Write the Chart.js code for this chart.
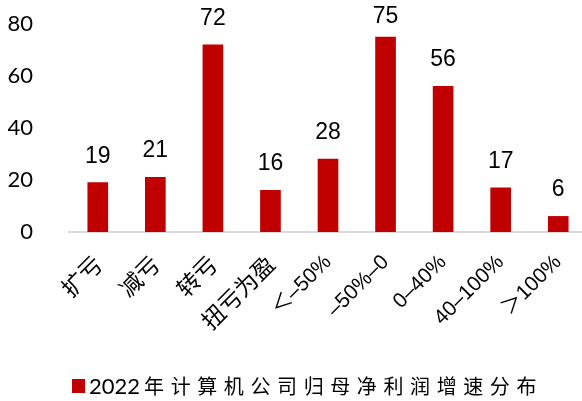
<!DOCTYPE html>
<html>
<head>
<meta charset="utf-8">
<script src="https://cdn.jsdelivr.net/npm/chart.js@4.4.1/dist/chart.umd.min.js"></script>
<style>
  html, body { margin: 0; padding: 0; background: #fff; overflow: hidden; width: 582px; height: 401px; }
  canvas { display: block; }
</style>
</head>
<body>
<canvas id="c" width="588" height="401"></canvas>
<script>
const categories = ['扩亏', '减亏', '转亏', '扭亏为盈', '＜–50%', '–50%–0', '0–40%', '40–100%', '＞100%'];
const companyCounts = [19, 21, 72, 16, 28, 75, 56, 17, 6];
const yTicks = [0, 20, 40, 60, 80];
const seriesName = '2022年计算机公司归母净利润增速分布';
const barColor = '#C00000';

const valueLabels = {
  id: 'valueLabels',
  afterDatasetsDraw(chart) {
    const ctx = chart.ctx;
    const meta = chart.getDatasetMeta(0);
    ctx.save();
    ctx.font = '23px "Liberation Sans", Arial, sans-serif';
    ctx.fillStyle = '#000';
    ctx.textAlign = 'center';
    ctx.textBaseline = 'alphabetic';
    meta.data.forEach((bar, i) => {
      const v = chart.data.datasets[0].data[i];
      const y = Math.max(bar.y - 20, 23);
      ctx.fillText(String(v), bar.x, y);
    });
    ctx.restore();
  }
};

const customLegend = {
  id: 'customLegend',
  afterDraw(chart) {
    const ctx = chart.ctx;
    const ds = chart.data.datasets[0];
    const cy = chart.height - 15;
    let x = 72;
    ctx.save();
    ctx.fillStyle = ds.backgroundColor;
    ctx.fillRect(x, cy - 7, 13, 14);
    x += 17;
    ctx.fillStyle = '#000';
    ctx.textBaseline = 'middle';
    ctx.textAlign = 'left';
    const label = ds.label;
    const m = label.match(/^(\d+)(.*)$/);
    const digits = m ? m[1] : '';
    const rest = m ? m[2] : label;
    ctx.font = '22px Lato, "Liberation Sans", sans-serif';
    ctx.fillText(digits, x, cy + 1);
    x += ctx.measureText(digits).width + 4;
    ctx.font = '20px "Noto Sans CJK SC", sans-serif';
    for (const ch of rest) {
      ctx.fillText(ch, x, cy);
      x += ctx.measureText(ch).width + 6.6;
    }
    ctx.restore();
  }
};

const isCJK = s => /[\u4e00-\u9fff]/.test(s);

new Chart(document.getElementById('c'), {
  type: 'bar',
  data: {
    labels: categories,
    datasets: [{
      label: seriesName,
      data: companyCounts,
      backgroundColor: barColor,
      borderWidth: 0,
      barThickness: 20
    }]
  },
  options: {
    responsive: false,
    animation: false,
    devicePixelRatio: 1,
    layout: { padding: { left: 8, right: 1, top: 24, bottom: 0 } },
    plugins: {
      legend: { display: false },
      tooltip: { enabled: false }
    },
    scales: {
      x: {
        grid: { display: false, drawTicks: false },
        border: { display: true, color: '#d9d9d9', width: 2 },
        ticks: {
          minRotation: 45,
          maxRotation: 45,
          autoSkip: false,
          padding: 18,
          color: '#000',
          font: (ctx) => {
            const lbl = categories[ctx.index] || '';
            return isCJK(lbl)
              ? { family: '"Noto Sans CJK SC", sans-serif', size: 23 }
              : { family: '"Liberation Sans", "Noto Sans CJK SC", sans-serif', size: 21 };
          }
        },
        afterFit(scale) { scale.height = 169; scale.paddingLeft = 0; scale.paddingRight = 0; }
      },
      y: {
        min: 0,
        max: 80,
        afterBuildTicks(scale) { scale.ticks = yTicks.map(v => ({ value: v })); },
        grid: { display: false, drawTicks: false },
        border: { display: false },
        ticks: {
          padding: 36,
          color: '#000',
          font: { family: 'Lato, "Liberation Sans", sans-serif', size: 22 }
        },
        afterFit(scale) { scale.width = 61; scale.paddingTop = 12; scale.paddingBottom = 12; }
      }
    }
  },
  plugins: [valueLabels, customLegend]
});
</script>
</body>
</html>
